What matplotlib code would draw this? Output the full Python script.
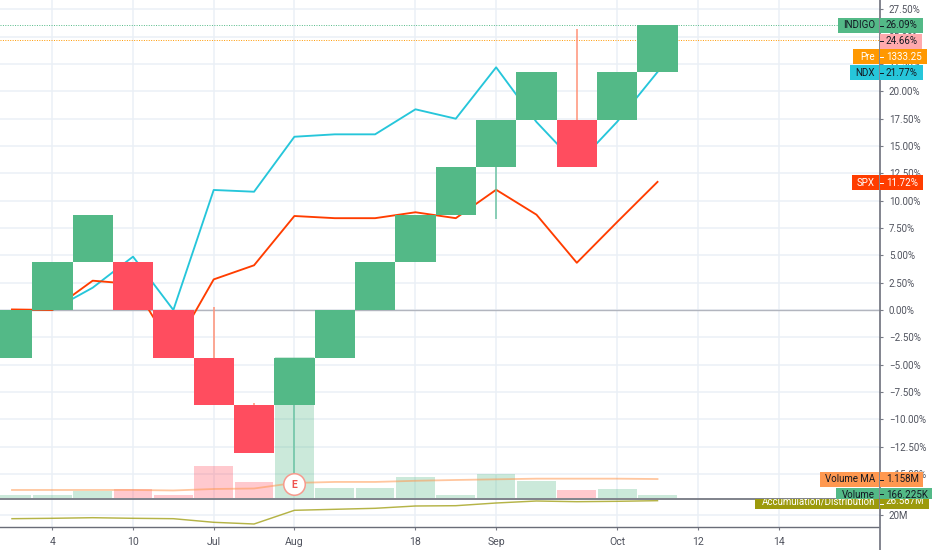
#!/usr/bin/env python3
"""INDIGO renko chart with NDX / SPX comparison, volume and A/D panes."""
import matplotlib
matplotlib.use("Agg")
import matplotlib.pyplot as plt
from matplotlib.patches import Rectangle
from matplotlib.lines import Line2D
from matplotlib.ticker import FixedLocator, FixedFormatter
from matplotlib.transforms import Bbox

plt.rcParams["font.family"] = ["Roboto", "DejaVu Sans"]

W, H = 932, 550

# renko bricks, % change
brick_open = [-4.35, 0.0, 4.35, 4.35, 0.0, -4.35, -8.7, -8.7, -4.35, 0.0, 4.35,
              8.7, 13.05, 17.4, 17.4, 17.4, 21.74]
brick_close = [0.0, 4.35, 8.7, 0.0, -4.35, -8.7, -13.05, -4.35, 0.0, 4.35, 8.7,
               13.05, 17.4, 21.74, 13.05, 21.74, 26.09]
# index, from, to
wick_bar = [5, 6, 7, 12, 14]
wick_lo = [-4.35, -8.7, -8.7, 8.3, 17.4]
wick_hi = [0.27, -8.55, -16.6, 13.05, 25.68]

ndx = [0.0, 0.0, 2.04, 4.88, 0.0, 10.98, 10.82, 15.85, 16.07, 16.07, 18.36, 17.5,
       22.2, 17.2, 13.3, 17.22, 21.77]
spx = [0.05, 0.0, 2.68, 2.38, -3.66, 2.8, 4.09, 8.6, 8.4, 8.4, 8.94, 8.4, 11.0,
       8.72, 4.32, 8.05, 11.72]

# millions
volume = [0.18, 0.18, 0.43, 0.55, 0.18, 1.95, 0.98, 8.6, 0.61, 0.61, 1.28, 0.18,
          1.46, 1.04, 0.49, 0.55, 0.166]
volume_ma = [0.49, 0.49, 0.49, 0.49, 0.46, 0.55, 0.58, 0.92, 0.98, 0.98, 1.05, 1.1,
             1.14, 1.18, 1.18, 1.18, 1.158]
accum_dist = [18.3, 18.48, 18.76, 18.48, 18.3, 16.64, 15.86, 22.16, 22.62, 23.08,
              24.14, 24.28, 25.52, 26.44, 26.12, 26.3, 26.587]
volume_up = [1, 1, 1, 0, 0, 0, 0, 1, 1, 1, 1, 1, 1, 1, 0, 1, 1]

pct_ticks = [-15 + 2.5 * n for n in range(18)]
date_pos = [1, 3, 5, 7, 10, 12, 15, 17, 19]
date_labels = ["4", "10", "Jul", "Aug", "18", "Sep", "Oct", "12", "14"]

GREEN = "#53b987"
RED = "#ff4d5f"
GRID = "#ebf0f6"
AXIS = "#787b86"
TEXT = "#50535e"
INK = "#131722"
LABEL_SIZE = 7.0


def px_axes(fig, x0, y0, x1, y1):
    return fig.add_axes([x0 / W, 1 - y1 / H, (x1 - x0) / W, (y1 - y0) / H])


fig = plt.figure(figsize=(W / 100, H / 100), dpi=100)
ax_bg = px_axes(fig, 0, 0, 879, 498)
ax_vol = px_axes(fig, 0, 0, 879, 498)
ax = px_axes(fig, 0, 0, 879, 498)
ax_ad = px_axes(fig, 0, 499, 879, 527)
ax_bg.set_zorder(0)
ax_vol.set_zorder(1)
ax.set_zorder(2)
ax_ad.set_zorder(2)
ax.patch.set_visible(False)

xlim = (-0.297, 21.49)
ylim = (-17.2, 28.36)
bars = list(range(len(brick_open)))

# grid sits behind everything, the volume bars are see-through over it
ax_bg.set_xlim(xlim)
ax_bg.set_ylim(ylim)
ax_bg.set_xticks(date_pos)
ax_bg.set_yticks(pct_ticks)
ax_bg.tick_params(length=0, labelbottom=False, labelleft=False)
ax_bg.grid(True, color=GRID, lw=1.1)
for s in ax_bg.spines.values():
    s.set_visible(False)

# volume overlay
ax_vol.set_xlim(xlim)
ax_vol.set_ylim(0, 30.4)
ax_vol.axis("off")
ax_vol.bar(bars, volume, width=0.96,
           color=["#53b987" if up else "#ff4d5f" for up in volume_up], alpha=0.3, zorder=2)
ax_vol.plot(bars, volume_ma, color="#ff9850", alpha=0.55, lw=1.3, zorder=3)

# price pane
ax.set_xlim(xlim)
ax.set_ylim(ylim)
ax.yaxis.tick_right()
ax.yaxis.set_major_locator(FixedLocator(pct_ticks))
ax.yaxis.set_major_formatter(FixedFormatter(
    [f"{t:.2f}%".replace("-", "\u2212") for t in pct_ticks]))
ax.tick_params(axis="y", length=3, width=0.8, color=AXIS, labelcolor=TEXT,
               labelsize=LABEL_SIZE, pad=4)
ax.tick_params(axis="x", length=0, labelbottom=False)
for s in ax.spines.values():
    s.set_visible(False)

ax.axhline(0, color="#b2b5be", lw=1, zorder=1.5)
ax.axhline(26.09, color=GREEN, lw=0.7, ls=(0, (1, 1.5)), zorder=1.5)
ax.axhline(24.66, color="#ff9800", lw=0.7, ls=(0, (1, 1.5)), zorder=1.5)

ax.plot(bars, ndx, color="#26c6da", lw=1.35, zorder=2)
ax.plot(bars, spx, color="#ff3d00", lw=1.35, zorder=2)

for b, lo, hi in zip(wick_bar, wick_lo, wick_hi):
    up = brick_close[b] > brick_open[b]
    ax.plot([b, b], [lo, hi], color="#6cc4a4" if up else "#ff9278", lw=1.1,
            zorder=2.5, solid_capstyle="butt")

for b in bars:
    up = brick_close[b] > brick_open[b]
    ax.bar(b, brick_close[b] - brick_open[b], bottom=brick_open[b], width=1.0,
           color=GREEN if up else RED, zorder=3)

# earnings marker
ax.plot([7], [-15.9], marker="o", ms=15.5, mfc="white", mec="#f79a8e", mew=1.1,
        zorder=6, clip_on=False)
ax.text(7, -15.9, "E", color="#ef5350", fontsize=7.5, fontweight="bold",
        ha="center", va="center_baseline", zorder=7)

# A/D pane
ax_ad.set_xlim(xlim)
ax_ad.set_ylim(14.48, 27.36)
ax_ad.plot(bars, accum_dist, color="#a3a119", alpha=0.8, lw=1.05)
ax_ad.yaxis.tick_right()
ax_ad.set_yticks([20])
ax_ad.set_yticklabels(["20M"])
ax_ad.tick_params(axis="y", length=3, width=0.8, color=AXIS, labelcolor=TEXT,
                  labelsize=LABEL_SIZE, pad=4)
ax_ad.set_xticks(date_pos)
ax_ad.set_xticklabels(date_labels)
ax_ad.tick_params(axis="x", length=2.5, width=0.8, color=AXIS, labelcolor=TEXT,
                  labelsize=7.6, pad=5)
ax_ad.grid(True, color=GRID, lw=1.1)
ax_ad.set_axisbelow(True)
for name, s in ax_ad.spines.items():
    s.set_visible(name == "bottom")
ax_ad.spines["bottom"].set_color("#6a6d78")
ax_ad.spines["bottom"].set_linewidth(1.0)

# pane divider and price scale line
fig.add_artist(Line2D([0, 879 / W], [1 - 498.5 / H] * 2, color="#6a6d78", lw=1.2, zorder=4))
fig.add_artist(Line2D([879.5 / W] * 2, [0, 1], color=AXIS, lw=1.3, zorder=4))


def badge(name, value, left, right, top, bottom, color, ink, clip=None, shift=0):
    """Scale label: name part left of the price line, value part right of it."""
    if name:
        fig.add_artist(Rectangle((left / W, 1 - bottom / H), (879 - left) / W,
                                 (bottom - top) / H, transform=fig.transFigure,
                                 fc=color, ec="none", zorder=8))
    fig.add_artist(Rectangle((880 / W, 1 - bottom / H), (right - 880) / W,
                             (bottom - top) / H, transform=fig.transFigure,
                             fc=color, ec="none", zorder=8))
    fig.add_artist(Line2D([880 / W, 883 / W], [1 - (top + bottom) / 2 / H] * 2,
                          color=ink, lw=0.7, zorder=9))
    yc = 1 - ((top + bottom) / 2 + shift) / H
    texts = [fig.text(886 / W, yc, value, color=ink, fontsize=LABEL_SIZE, va="center",
                      ha="left", zorder=9)]
    if name:
        texts.append(fig.text(875 / W, yc, name, color=ink, fontsize=LABEL_SIZE, va="center",
                              ha="right", zorder=9))
    if clip is not None:
        # display coords, y flipped from the picture's top-left origin
        box = Bbox([[0, H - clip[1]], [W, H - clip[0]]])
        for t in texts:
            t.set_clip_box(box)
            t.set_clip_on(True)


badge("INDIGO", "26.09%", 838, 923, 18, 33, GREEN, INK)
badge("", "24.66%", 0, 922, 34, 48.5, "#ffa9ad", INK)
badge("Pre", "1333.25", 853, 927, 49, 64, "#ff9800", "white")
badge("NDX", "21.77%", 850, 923, 65, 80, "#26c6da", INK)
badge("SPX", "11.72%", 852, 923, 175, 190, "#ff3d00", "white")
badge("Volume MA", "1.158M", 820, 923, 472, 487, "#ff9850", INK)
badge("Volume", "166.225K", 836, 932, 488, 499, GREEN, INK, clip=(488, 499), shift=1.5)
badge("Accumulation/Distribution", "26.587M", 755, 929, 499, 509, "#9c9a0c", "white",
      clip=(499, 509), shift=-2.5)

fig.savefig("out.png", dpi=100)
